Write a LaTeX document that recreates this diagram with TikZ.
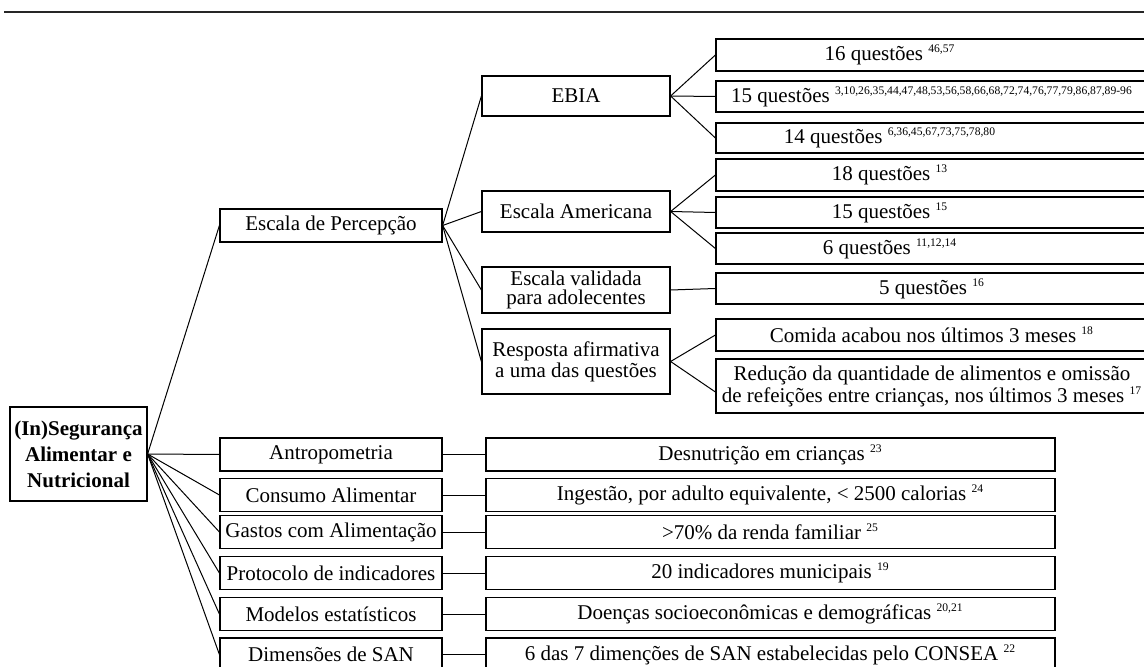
\documentclass[tikz,border=0pt]{standalone}
\usepackage{fontspec}
\setmainfont{Liberation Serif}
\newcommand{\supref}[1]{\textsuperscript{\fontsize{5.8}{6}\selectfont #1}}

\begin{document}
\begin{tikzpicture}[x=0.5pt, y=-0.5pt,
    box/.style={draw, line width=0.6pt, inner sep=1pt, align=center,
      font=\fontsize{10.5}{9.2}\selectfont},
    mid/.style={box, minimum width=111pt, minimum height=16.5pt},
    sub/.style={box, minimum width=94pt},
    res/.style={box, minimum width=284.5pt, minimum height=16.5pt},
    qst/.style={box, minimum width=216pt, minimum height=15.5pt},
    shiftl/.style={execute at end node={\hspace*{42pt}}},
    link/.style={line width=0.5pt}]
  \useasboundingbox (0,0) rectangle (1144,667);
  \clip (0,0) rectangle (1144,667);
  % Top rule
  \draw[line width=0.75pt, black!85] (4,12) -- (1144,12);

  % Root
  \node[box, font=\bfseries\fontsize{10.5}{13}\selectfont,
    minimum width=68.5pt, minimum height=47pt] (root) at (78.5,454)
    {(In)Segurança\\Alimentar e\\Nutricional};

  % Second column
  \node[mid] (perc) at (331,225.5) {Escala de Percepção};
  \node[mid] (antr) at (331,454.5) {Antropometria};
  \node[mid] (cons) at (331,495)   {Consumo Alimentar};
  \node[mid] (gast) at (331,532)   {Gastos com Alimentação};
  \node[mid] (prot) at (331,573)   {Protocolo de indicadores};
  \node[mid] (mode) at (331,614)   {Modelos estatísticos};
  \node[mid] (dime) at (331,654.5) {Dimensões de SAN};

  % Perception scales
  \node[sub, minimum height=20pt]   (ebia) at (576,96)    {EBIA};
  \node[sub, minimum height=20.5pt] (amer) at (576,211.5) {Escala Americana};
  \node[sub, minimum height=23pt]   (vali) at (576,290)   {Escala validada\\para adolecentes};
  \node[sub, minimum height=32.5pt] (resp) at (576,361.5) {Resposta afirmativa\\a uma das questões};

  % Number of questions
  \node[qst, minimum height=16pt, shiftl] (q16) at (932,55)  {16 questões \supref{46,57}};
  \node[qst] (q15) at (932,96.5) {15 questões \supref{3,10,26,35,44,47,48,53,56,58,66,68,72,74,76,77,79,86,87,89-96}};
  \node[qst, minimum height=15pt, shiftl] (q14) at (932,138) {14 questões \supref{6,36,45,67,73,75,78,80}};
  \node[qst, minimum height=16pt, shiftl] (q18) at (932,175) {18 questões \supref{13}};
  \node[qst, shiftl] (q15b) at (932,212.5) {15 questões \supref{15}};
  \node[qst, shiftl] (q6)   at (932,248.5) {6 questões \supref{11,12,14}};
  \node[qst] (q5)   at (932,288.5) {5 questões \supref{16}};
  \node[qst, minimum height=16pt] (comi) at (932,335) {Comida acabou nos últimos 3 meses \supref{18}};
  \node[qst, minimum height=27pt, font=\fontsize{10.5}{9.5}\selectfont] (redu) at (932,386)
    {Redução da quantidade de alimentos e omissão\\de refeições entre crianças, nos últimos 3 meses \supref{17}};

  % Other indicators
  \node[res] (desn) at (770.5,454.5) {Desnutrição em crianças \supref{23}};
  \node[res] (inge) at (770.5,495)   {Ingestão, por adulto equivalente, < 2500 calorias \supref{24}};
  \node[res] (rend) at (770.5,532)   {>70\% da renda familiar \supref{25}};
  \node[res] (muni) at (770.5,573)   {20 indicadores municipais \supref{19}};
  \node[res] (doen) at (770.5,614)   {Doenças socioeconômicas e demográficas \supref{20,21}};
  \node[res] (cnsa) at (770.5,654.5) {6 das 7 dimenções de SAN estabelecidas pelo CONSEA \supref{22}};

  % Connectors
  \foreach \n in {perc,antr,cons,gast,prot,mode,dime}
    \draw[link] (root.east) -- (\n.west);
  \foreach \n in {ebia,amer,vali,resp}
    \draw[link] (perc.east) -- (\n.west);
  \foreach \n in {q16,q15,q14}
    \draw[link] (ebia.east) -- (\n.west);
  \foreach \n in {q18,q15b,q6}
    \draw[link] (amer.east) -- (\n.west);
  \draw[link] (vali.east) -- (q5.west);
  \draw[link] (resp.east) -- (comi.west);
  \draw[link] (resp.east) -- ([yshift=-3pt]redu.west);
  \foreach \a/\b in {antr/desn,cons/inge,gast/rend,prot/muni,mode/doen,dime/cnsa}
    \draw[link] (\a.east) -- (\b.west);
\end{tikzpicture}
\end{document}
